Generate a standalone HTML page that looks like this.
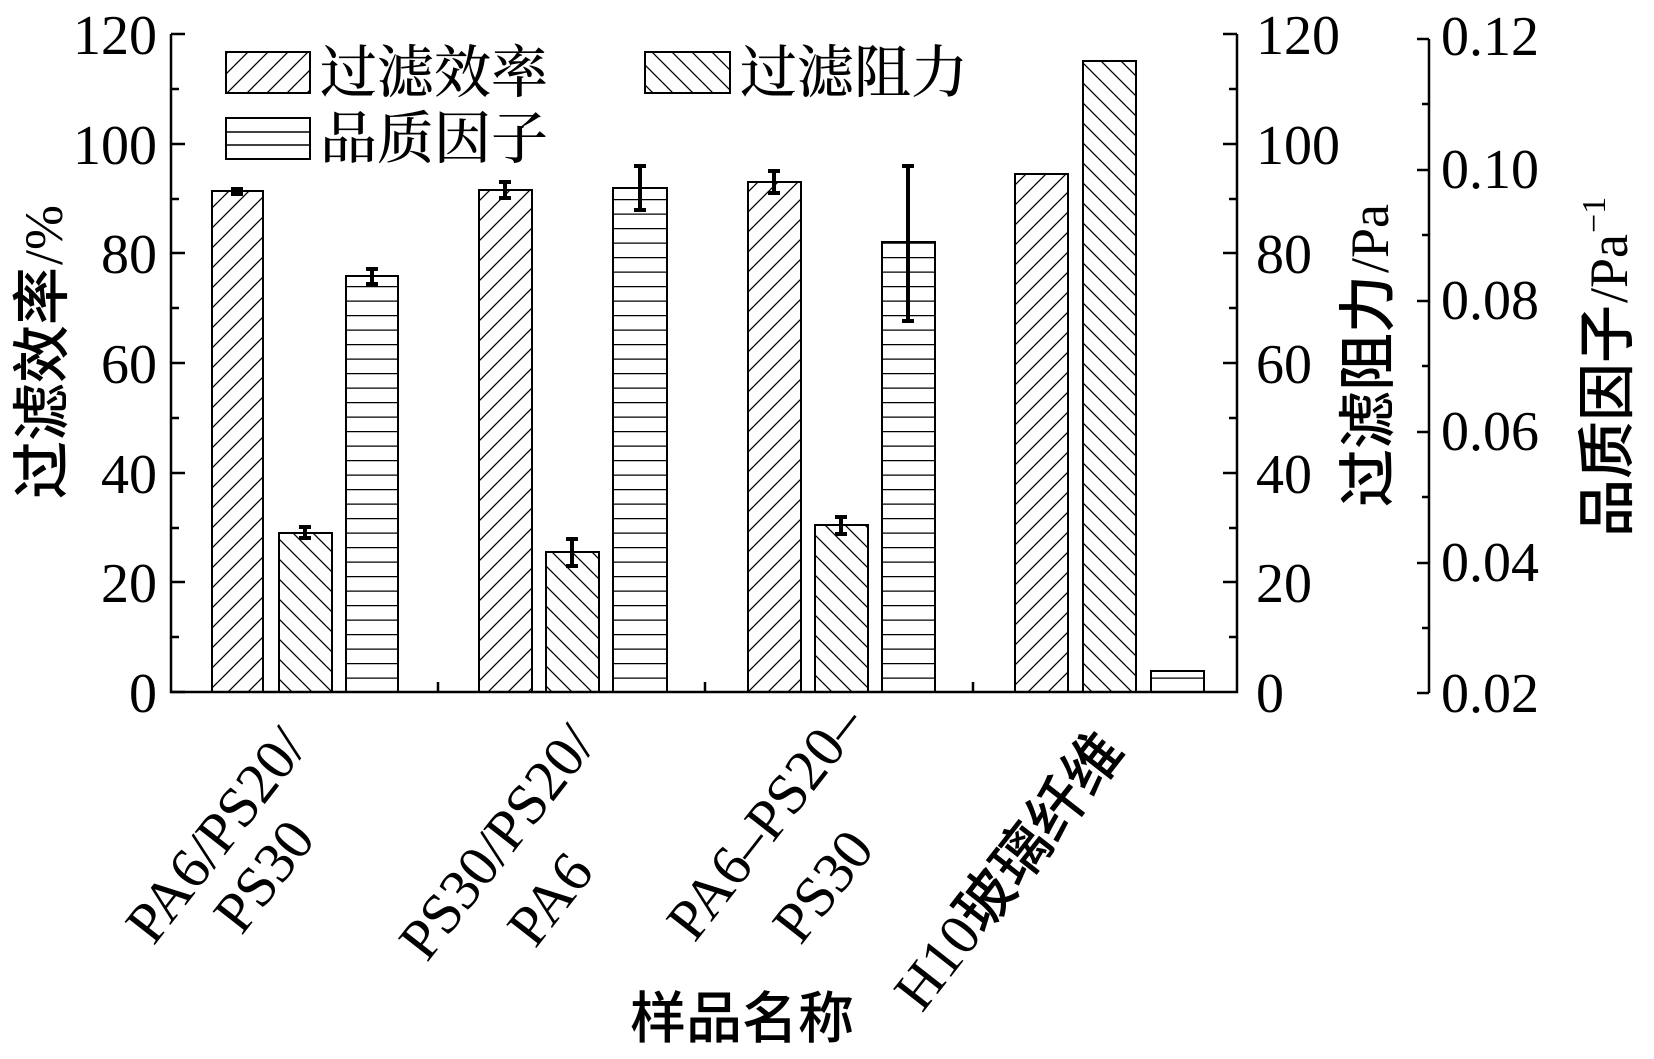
<!DOCTYPE html>
<html><head><meta charset="utf-8"><style>
html,body{margin:0;padding:0;background:#fff}
svg{display:block}
text{font-family:"Liberation Serif","Noto Serif CJK SC","Noto Sans CJK SC",serif;fill:#000}
.cj{font-family:"Liberation Serif","Noto Sans CJK SC",sans-serif;font-weight:500}
.lt{font-family:"Liberation Serif",serif;font-size:54px;font-weight:400}
.ls{font-family:"Liberation Serif",serif;font-size:34px;font-weight:400}
</style></head><body>
<svg width="1654" height="1059" viewBox="0 0 1654 1059" xmlns="http://www.w3.org/2000/svg">
<defs>
<pattern id="fw" patternUnits="userSpaceOnUse" width="20" height="20"><path d="M-5,5 L5,-5 M0,20 L20,0 M15,25 L25,15" stroke="#000" stroke-width="1.3"/></pattern>
<pattern id="bw" patternUnits="userSpaceOnUse" width="20" height="20"><path d="M-5,15 L5,25 M0,0 L20,20 M15,-5 L25,5" stroke="#000" stroke-width="1.3"/></pattern>
<pattern id="hz" patternUnits="userSpaceOnUse" width="20" height="14.5" y="692"><path d="M0,0.5 L20,0.5" stroke="#000" stroke-width="1.6"/></pattern>
</defs>
<g stroke="#000" stroke-width="2.5" fill="none">
<path d="M171,34 L171,692 L1237,692 L1237,34"/>
<path d="M1429,39 L1429,693"/>
</g>
<g stroke="#000" stroke-width="2.5">
<path d="M171,34h14M171,144h14M171,253h14M171,363h14M171,473h14M171,582h14M171,692h14"/>
<path d="M171,89h8M171,199h8M171,308h8M171,418h8M171,528h8M171,637h8"/>
<path d="M1237,34h-14M1237,144h-14M1237,253h-14M1237,363h-14M1237,473h-14M1237,582h-14"/>
<path d="M1237,89h-8M1237,199h-8M1237,308h-8M1237,418h-8M1237,528h-8M1237,637h-8"/>
<path d="M1429,39h-12M1429,170h-12M1429,301h-12M1429,432h-12M1429,563h-12M1429,693h-12"/>
<path d="M1429,104h-7M1429,235h-7M1429,366h-7M1429,497h-7M1429,628h-7"/>
<path d="M438,692v-10M705,692v-10M973,692v-10"/>
</g>
<g stroke="#000" stroke-width="2">
<rect x="212" y="191" width="51" height="501" fill="url(#fw)"/>
<rect x="279" y="533" width="53" height="159" fill="url(#bw)"/>
<rect x="346" y="276" width="52" height="416" fill="url(#hz)"/>
<rect x="479" y="190" width="53" height="502" fill="url(#fw)"/>
<rect x="546" y="552" width="53" height="140" fill="url(#bw)"/>
<rect x="613" y="188" width="54" height="504" fill="url(#hz)"/>
<rect x="748" y="182" width="53" height="510" fill="url(#fw)"/>
<rect x="815" y="525" width="53" height="167" fill="url(#bw)"/>
<rect x="882" y="242" width="53" height="450" fill="url(#hz)"/>
<rect x="1015" y="174" width="53" height="518" fill="url(#fw)"/>
<rect x="1083" y="61" width="53" height="631" fill="url(#bw)"/>
<rect x="1151" y="671" width="53" height="21" fill="url(#hz)"/>
</g>
<g stroke="#000" stroke-width="4">
<path d="M237,189v5M231,189h12M231,194h12"/>
<path d="M305,527v11M299,527h12M299,538h12"/>
<path d="M372,269v15M366,269h12M366,284h12"/>
<path d="M505,182v16M499,182h12M499,198h12"/>
<path d="M572,539v27M566,539h12M566,566h12"/>
<path d="M640,166v44M634,166h12M634,210h12"/>
<path d="M774,171v22M768,171h12M768,193h12"/>
<path d="M841,517v17M835,517h12M835,534h12"/>
<path d="M908,166v155M902,166h12M902,321h12"/>
</g>
<g stroke="#000" stroke-width="2">
<rect x="226" y="52" width="84" height="41" fill="url(#fw)"/>
<rect x="645" y="52" width="85" height="41" fill="url(#bw)"/>
<rect x="226" y="118" width="84" height="41" fill="#fff"/>
<path d="M226,132h84M226,145h84" stroke-width="1.6"/>
</g>
<g font-size="57" class="cj">
<text x="320" y="92">过滤效率</text>
<text x="740" y="92">过滤阻力</text>
<text x="320" y="158">品质因子</text>
</g>
<g font-size="56" text-anchor="end">
<text x="157" y="54">120</text><text x="157" y="164">100</text><text x="157" y="273">80</text>
<text x="157" y="383">60</text><text x="157" y="493">40</text><text x="157" y="602">20</text><text x="157" y="712">0</text>
</g>
<g font-size="56">
<text x="1256" y="54">120</text><text x="1256" y="164">100</text><text x="1256" y="273">80</text>
<text x="1256" y="383">60</text><text x="1256" y="493">40</text><text x="1256" y="602">20</text><text x="1256" y="712">0</text>
<text x="1441" y="55">0.12</text><text x="1441" y="188">0.10</text><text x="1441" y="319">0.08</text>
<text x="1441" y="450">0.06</text><text x="1441" y="581">0.04</text><text x="1441" y="712">0.02</text>
</g>
<g transform="translate(62,499) rotate(-90)">
<text class="cj" font-size="58" x="0" y="0">过滤效率</text>
<text class="lt" style="font-size:54px" x="234" y="0">/%</text>
</g>
<g transform="translate(1388,507) rotate(-90)">
<text class="cj" font-size="58" x="0" y="0">过滤阻力</text>
<text class="lt" style="font-size:54px" x="234" y="0">/Pa</text>
</g>
<g transform="translate(1627,537) rotate(-90)">
<text class="cj" font-size="58" x="0" y="0">品质因子</text>
<text class="lt" style="font-size:54px" x="234" y="0">/Pa</text>
<text class="ls" style="font-size:34px" x="304" y="-22">−1</text>
</g>
<text class="cj" font-size="56" text-anchor="middle" x="742" y="1038">样品名称</text>
<g font-size="58" text-anchor="middle">
<text transform="translate(217,836) rotate(-52)" y="18">PA6/PS20/</text>
<text transform="translate(265,877) rotate(-52)" y="18">PS30</text>
<text transform="translate(498,843) rotate(-52)" y="18">PS30/PS20/</text>
<text transform="translate(551,900) rotate(-52)" y="18">PA6</text>
<text transform="translate(766,823) rotate(-52)" y="18">PA6–PS20–</text>
<text transform="translate(824,887) rotate(-52)" y="18">PS30</text>
<text transform="translate(1010,872) rotate(-52)" y="18">H10<tspan class="cj">玻璃纤维</tspan></text>
</g>
</svg>
</body></html>
